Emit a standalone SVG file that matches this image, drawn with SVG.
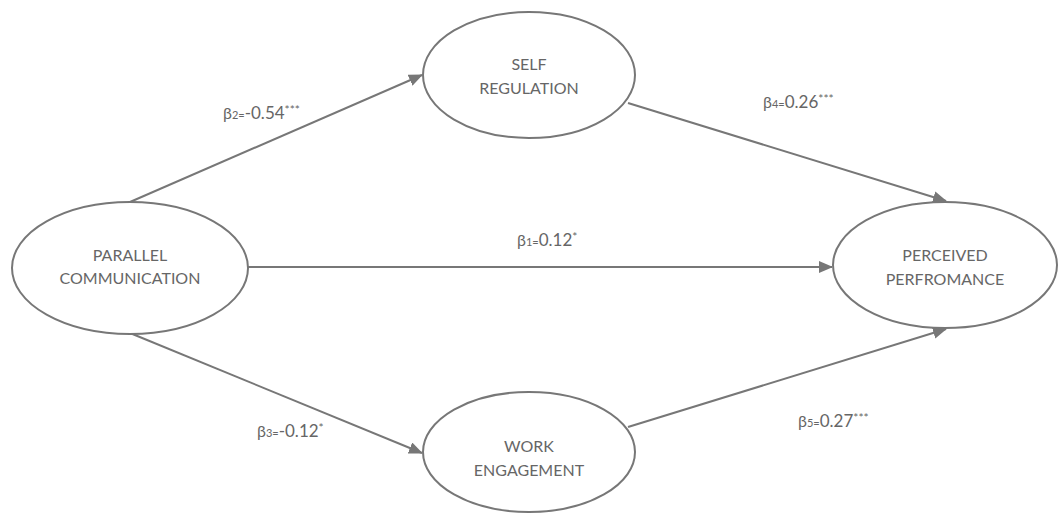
<svg xmlns="http://www.w3.org/2000/svg" width="1061" height="515" viewBox="0 0 1061 515">
<style>
.node ellipse{fill:#fff;stroke:#777;stroke-width:2}
.node text{font-family:Lato,"Open Sans",sans-serif;font-size:16px;fill:#666;text-anchor:middle}
.edge{stroke:#777;stroke-width:2;fill:none;marker-end:url(#ah)}
.lbl{font-family:Lato,"Open Sans",sans-serif;font-size:16px;fill:#666}
.sub{font-size:11px}
.num{font-size:17px}
.sup{font-size:12px}
</style>
<defs>
<marker id="ah" viewBox="0 0 14 12" refX="13" refY="6" markerWidth="14" markerHeight="12" markerUnits="userSpaceOnUse" orient="auto">
<path d="M0,0 L14,6 L0,12 z" fill="#777"/>
</marker>
</defs>
<rect width="1061" height="515" fill="#fff"/>
<g id="connectors">
<line class="edge" x1="130" y1="202" x2="422" y2="75"/>
<line class="edge" x1="628" y1="103" x2="946" y2="201"/>
<line class="edge" x1="248" y1="267" x2="832" y2="267"/>
<line class="edge" x1="130" y1="333" x2="422" y2="453"/>
<line class="edge" x1="628" y1="427" x2="946" y2="329"/>
</g>
<g id="labels">
<text class="lbl" x="223" y="119">β<tspan class="sub">2=</tspan><tspan class="num">-0.54</tspan><tspan class="sup" dy="-5">***</tspan></text>
<text class="lbl" x="763" y="108">β<tspan class="sub">4=</tspan><tspan class="num">0.26</tspan><tspan class="sup" dy="-5">***</tspan></text>
<text class="lbl" x="517" y="246">β<tspan class="sub">1=</tspan><tspan class="num">0.12</tspan><tspan class="sup" dy="-5">*</tspan></text>
<text class="lbl" x="257" y="437">β<tspan class="sub">3=</tspan><tspan class="num">-0.12</tspan><tspan class="sup" dy="-5">*</tspan></text>
<text class="lbl" x="798" y="427">β<tspan class="sub">5=</tspan><tspan class="num">0.27</tspan><tspan class="sup" dy="-5">***</tspan></text>
</g>
<g id="parallel-communication" class="node">
<ellipse cx="130" cy="268" rx="118" ry="66"/>
<text x="130" y="261">PARALLEL</text>
<text x="130" y="284">COMMUNICATION</text>
</g>
<g id="self-regulation" class="node">
<ellipse cx="529" cy="75" rx="106" ry="63"/>
<text x="529" y="70">SELF</text>
<text x="529" y="94">REGULATION</text>
</g>
<g id="perceived-performance" class="node">
<ellipse cx="945" cy="265" rx="112" ry="63"/>
<text x="945" y="261">PERCEIVED</text>
<text x="945" y="285">PERFROMANCE</text>
</g>
<g id="work-engagement" class="node">
<ellipse cx="529" cy="452" rx="106" ry="60"/>
<text x="529" y="452">WORK</text>
<text x="529" y="476">ENGAGEMENT</text>
</g>
</svg>
